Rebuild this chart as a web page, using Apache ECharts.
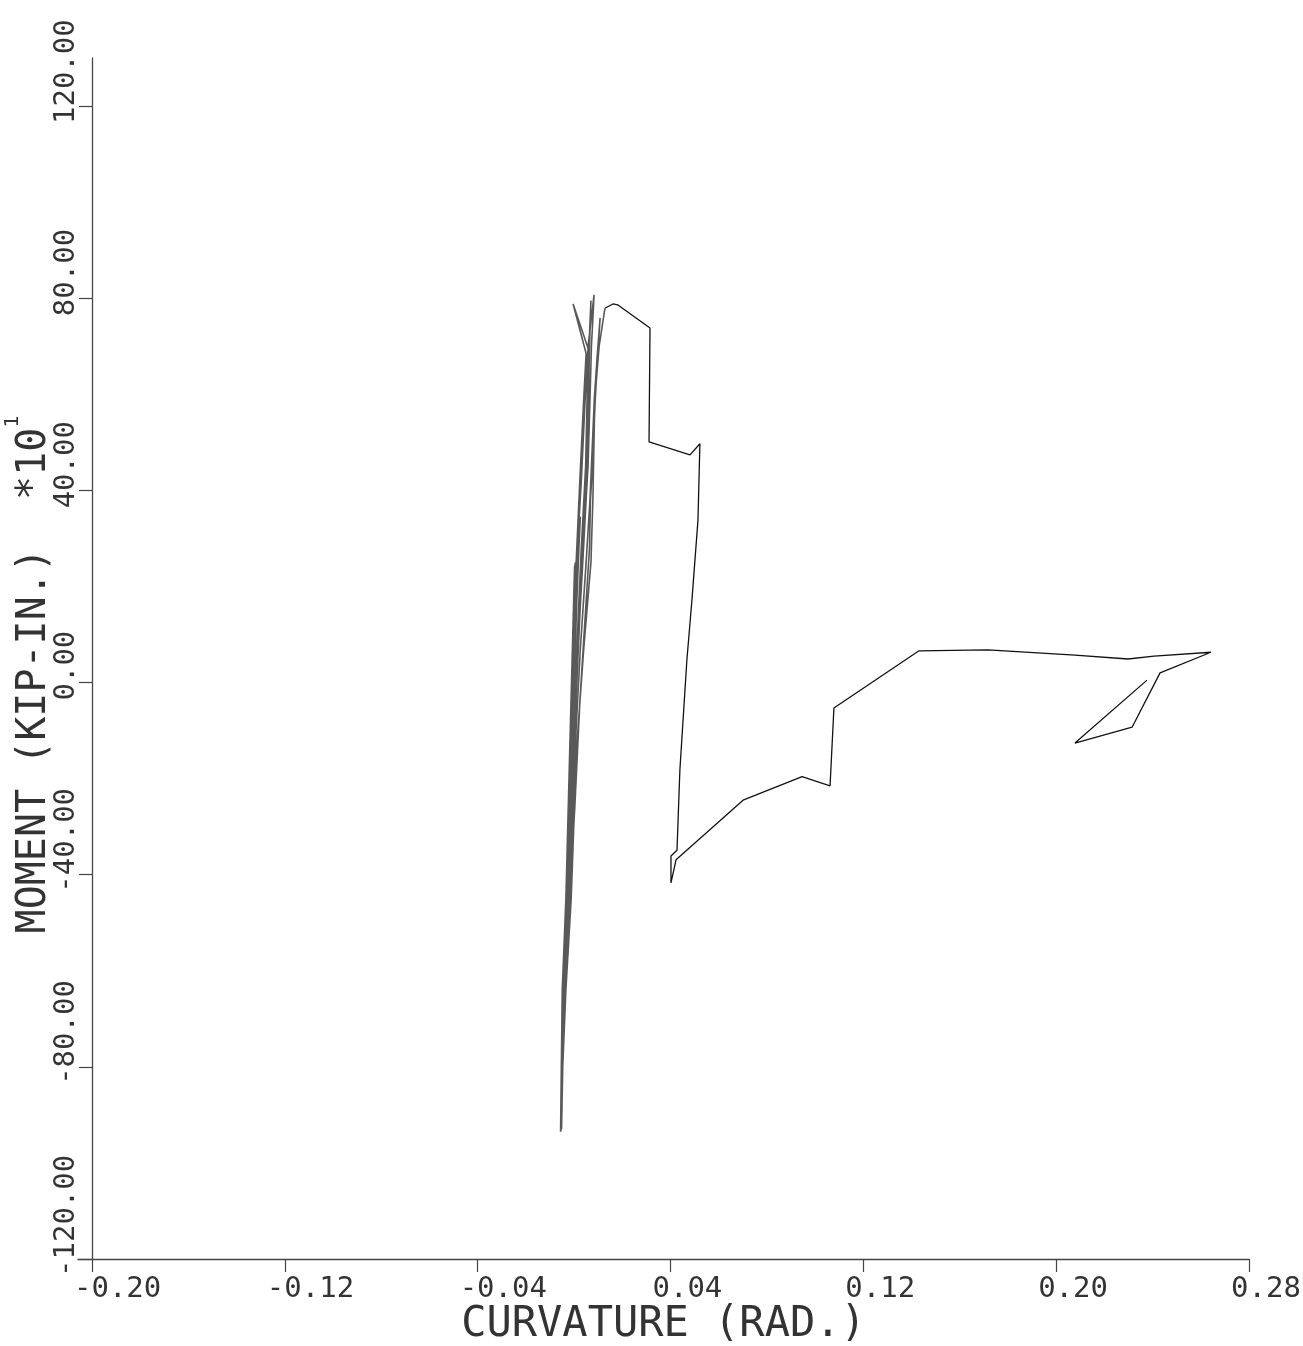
<!DOCTYPE html>
<html>
<head>
<meta charset="utf-8">
<script src="https://cdn.jsdelivr.net/npm/echarts@6/dist/echarts.min.js"></script>
<style>
html,body{margin:0;padding:0;background:#fff;}
#c{width:1303px;height:1346px;}
</style>
</head>
<body>
<div id="c"></div>
<script>
// Tick values
var xTicks = [-0.20, -0.12, -0.04, 0.04, 0.12, 0.20, 0.28];
var yTicks = [-120, -80, -40, 0, 40, 80, 120];

// Cyclic bundle (curvature, moment *10^1)
var bundleCurvature = [
  0.0000, 0.0010, 0.0020, 0.0026, 0.0021, 0.0008, -0.0003, -0.0014, -0.0024, -0.0032, -0.0046, -0.0052, -0.0055,
  -0.0050, -0.0044, -0.0026, -0.0012, -0.0002, 0.0006, 0.0014, 0.0030, 0.0046, 0.0058, -0.0004,
  0.0050, 0.0040, 0.0022, 0.0006, -0.0004, -0.0016, -0.0029, -0.0048, -0.0053, -0.0052,
  -0.0048, -0.0040, -0.0020, -0.0006, 0.0008, 0.0020, 0.0034, 0.0046, 0.0054, 0.0058, 0.0083,
  0.0072, 0.0066, 0.0058, 0.0040, 0.0024, 0.0006, -0.0010, -0.0024, -0.0044, -0.0051, -0.0054,
  -0.0049, -0.0042, -0.0024, -0.0010, 0.0000, 0.0004, 0.0006, 0.0002,
  -0.0008, -0.0020, -0.0034, -0.0049, -0.0054, -0.0056,
  -0.0048, -0.0036, -0.0014, 0.0004, 0.0026, 0.0050, 0.0066, 0.0078, 0.0084, 0.0096, 0.0108,
  0.0098, 0.0088, 0.0076, 0.0068, 0.0064, 0.0044, 0.0024, 0.0004, -0.0018, -0.0038, -0.0050, -0.0053,
  -0.0050, -0.0040, -0.0018, -0.0002, 0.0016, 0.0036, 0.0052, 0.0060, 0.0064, 0.0070,
  0.0062, 0.0056, 0.0048, 0.0030, 0.0012, -0.0008, -0.0022, -0.0040, -0.0050, -0.0052,
  -0.0047, -0.0034, -0.0012, 0.0010, 0.0040, 0.0070, 0.0078, 0.0086, 0.0104, 0.0128
];
var bundleMoment = [
  0, 15, 28, 34.5, 33, 18, 2, -14, -30, -45, -64, -80, -93.5,
  -80, -64, -45, -20, 0, 15, 28, 42, 59, 69.6, 78.8,
  68.5, 59, 40, 22, 6, -14, -40, -64, -80, -93,
  -80, -64, -45, -20, 0, 15, 28, 40, 59, 70, 80.7,
  70, 59, 45, 30, 14, -6, -30, -48, -64, -80, -92,
  -80, -64, -45, -20, 0, 12, 25, 24,
  5, -18, -45, -64, -85, -93.5,
  -80, -64, -45, -14, 7, 25, 38, 52, 59, 68, 75.9,
  68, 59, 45, 38, 28, 12, -4, -25, -45, -64, -82, -93,
  -82, -64, -45, -14, 7, 25, 40, 59, 70, 79.5,
  70, 59, 45, 28, 8, -14, -40, -64, -82, -93,
  -80, -64, -45, -14, 7, 25, 38, 59, 70, 77.9
];

// Final large excursion
var excursionCurvature = [
  0.0128, 0.0161, 0.0182, 0.0315, 0.0311, 0.0481, 0.0522, 0.0514, 0.0489, 0.0468, 0.0439, 0.0427,
  0.0402, 0.0402, 0.0423, 0.0701, 0.0946, 0.1062, 0.1078, 0.1431, 0.1717, 0.2078, 0.2298, 0.2406,
  0.2642, 0.2431, 0.2315, 0.2078, 0.2377
];
var excursionMoment = [
  77.9, 78.8, 78.6, 73.8, 50.1, 47.4, 49.7, 33.8, 17.2, 4.7, -18.2, -34.9,
  -36.1, -41.7, -36.9, -24.5, -19.6, -21.5, -5.3, 6.6, 6.8, 5.7, 4.9, 5.5,
  6.3, 2.0, -9.3, -12.6, 0.5
];

function zip(xs, ys) {
  var out = [];
  for (var i = 0; i < xs.length; i++) out.push([xs[i], ys[i]]);
  return out;
}

var FONT = 'DejaVu Sans Mono';
var chart = echarts.init(document.getElementById('c'), null, {renderer: 'canvas'});
chart.setOption({
  animation: false,
  backgroundColor: '#ffffff',
  grid: {left: 78, right: 54, top: 58, bottom: 87, containLabel: false, outerBoundsMode: 'none'},
  xAxis: {
    type: 'value',
    min: -0.2058,
    max: 0.28,
    name: 'CURVATURE (RAD.)',
    nameLocation: 'middle',
    nameGap: 66,
    nameMoveOverlap: false,
    nameTextStyle: {fontFamily: FONT, fontSize: 42, color: '#333', align: 'center', verticalAlign: 'middle'},
    axisLine: {show: true, onZero: false, lineStyle: {color: '#444', width: 1.3}},
    axisTick: {show: true, inside: false, length: 13, customValues: xTicks, lineStyle: {color: '#444', width: 1.2}},
    axisLabel: {
      customValues: xTicks,
      formatter: function (v) { return v.toFixed(2); },
      fontFamily: FONT, fontSize: 29, color: '#333',
      align: 'left', verticalAlign: 'middle', margin: 30, padding: [0, 0, 0, -18]
    },
    splitLine: {show: false}
  },
  yAxis: {
    type: 'value',
    min: -120,
    max: 130,
    offset: -14,
    name: '{a|MOMENT (KIP-IN.)  *10}{s|1}',
    nameLocation: 'middle',
    nameRotate: 90,
    nameGap: 57,
    nameMoveOverlap: false,
    nameTextStyle: {
      fontFamily: FONT, fontSize: 40, color: '#333', align: 'center', verticalAlign: 'middle',
      padding: [0, 32, 0, 0],
      rich: {
        a: {fontFamily: FONT, fontSize: 40, color: '#333', lineHeight: 64, verticalAlign: 'middle'},
        s: {fontFamily: FONT, fontSize: 20, color: '#333', lineHeight: 20, verticalAlign: 'top'}
      }
    },
    axisLine: {show: true, onZero: false, lineStyle: {color: '#444', width: 1.3}},
    axisTick: {show: true, inside: false, length: 13, customValues: yTicks, lineStyle: {color: '#444', width: 1.2}},
    axisLabel: {
      customValues: yTicks,
      formatter: function (v) { return v.toFixed(2); },
      rotate: 90,
      fontFamily: FONT, fontSize: 29, color: '#333',
      align: 'left', verticalAlign: 'middle', margin: 26, padding: [0, 0, 0, -18]
    },
    splitLine: {show: false}
  },
  series: [
    {
      name: 'cycles',
      type: 'line',
      data: zip(bundleCurvature, bundleMoment),
      showSymbol: false,
      symbol: 'none',
      lineStyle: {color: '#222', width: 1.6, opacity: 0.75},
      z: 3
    },
    {
      name: 'excursion',
      type: 'line',
      data: zip(excursionCurvature, excursionMoment),
      showSymbol: false,
      symbol: 'none',
      lineStyle: {color: '#111', width: 1.3},
      z: 3
    }
  ]
});
</script>
</body>
</html>
